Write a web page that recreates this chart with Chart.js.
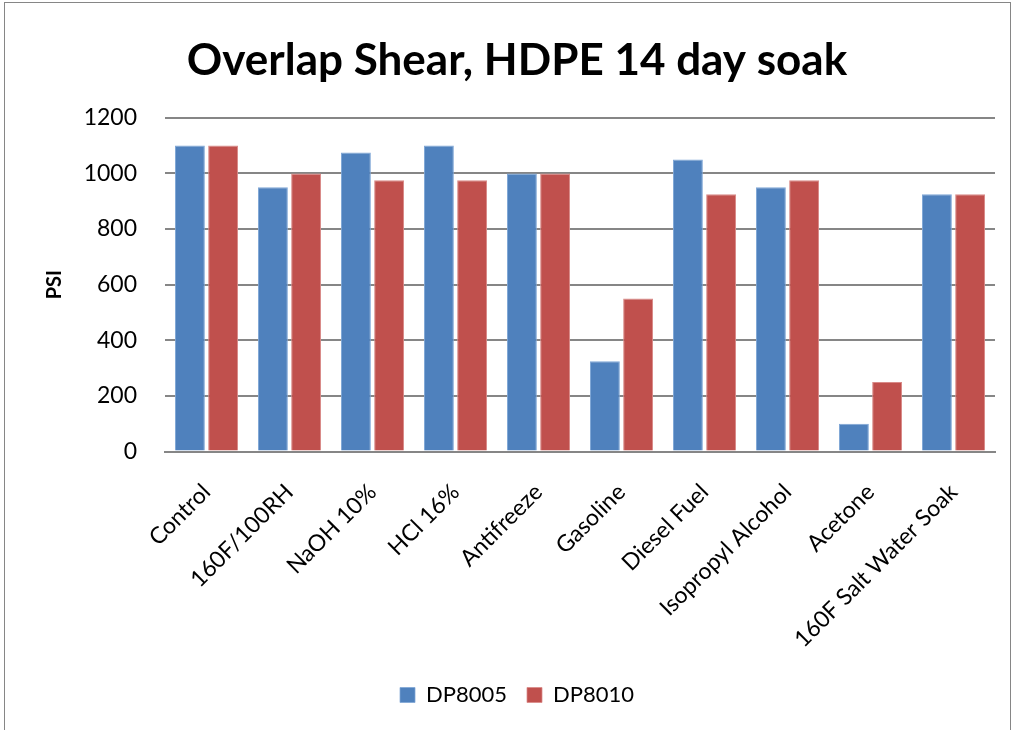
<!DOCTYPE html>
<html><head><meta charset="utf-8">
<script src="https://cdn.jsdelivr.net/npm/chart.js@4/dist/chart.umd.min.js"></script>
<style>
html,body{margin:0;padding:0;background:#fff;overflow:hidden}
#frame{position:absolute;left:4px;top:2px;width:1005px;height:760px;border:1px solid #868686;border-bottom:none;}
#wrap{position:absolute;left:0;top:0;width:1014px;height:730px}
</style></head>
<body>
<div id="frame"></div>
<div id="wrap"><canvas id="c" width="1014" height="730"></canvas></div>
<script>
const categories = ["Control","160F/100RH","NaOH 10%","HCl 16%","Antifreeze","Gasoline","Diesel Fuel","Isopropyl Alcohol","Acetone","160F Salt Water Soak"];
const dp8005 = [1100,950,1075,1100,1000,325,1050,950,100,925];
const dp8010 = [1100,1000,975,975,1000,550,925,975,250,925];
const yTicks = [0,200,400,600,800,1000,1200];
const FONT = "Lato, 'Open Sans', sans-serif";

new Chart(document.getElementById('c'), {
  type: 'bar',
  data: {
    labels: categories,
    datasets: [
      {label:'DP8005', data: dp8005, backgroundColor:'#4f81bd', borderColor:'#7fa6d6', borderWidth:{top:1,left:1,right:1,bottom:0}},
      {label:'DP8010', data: dp8010, backgroundColor:'#c0504d', borderColor:'#d98a88', borderWidth:{top:1,left:1,right:1,bottom:0}}
    ]
  },
  options: {
    responsive:false, animation:false,
    layout:{padding:{left:39,right:19,top:12,bottom:14}},
    plugins:{
      title:{display:true,text:'Overlap Shear, HDPE 14 day soak',color:'#000',font:{family:FONT,size:44,weight:'bold'},padding:{top:22,bottom:31}},
      legend:{position:'bottom',labels:{color:'#000',font:{family:FONT,size:22},boxWidth:15,boxHeight:15,padding:20}},
      tooltip:{enabled:false}
    },
    scales:{
      x:{
        grid:{display:false,drawTicks:false},
        border:{display:true,color:'#868686',width:2},
        ticks:{color:'#000',font:{family:FONT,size:23},maxRotation:45,minRotation:45,padding:27,autoSkip:false},
        afterFit:(s)=>{s.paddingLeft=0;s.paddingRight=0;s.height-=16;},
        categoryPercentage:0.83, barPercentage:0.81
      },
      y:{
        min:0,max:1200,
        afterBuildTicks:(ax)=>{ax.ticks=yTicks.map(v=>({value:v}));},
        afterFit:(s)=>{s.width=126;},
        grid:{color:'#868686',lineWidth:2,drawTicks:false},
        border:{display:false},
        ticks:{color:'#000',font:{family:FONT,size:23},padding:28,callback:(v)=>String(v)},
        title:{display:true,text:'PSI',color:'#000',font:{family:FONT,size:20,weight:'bold'},padding:{top:4,bottom:20}}
      }
    }
  }
});
</script>
</body></html>
